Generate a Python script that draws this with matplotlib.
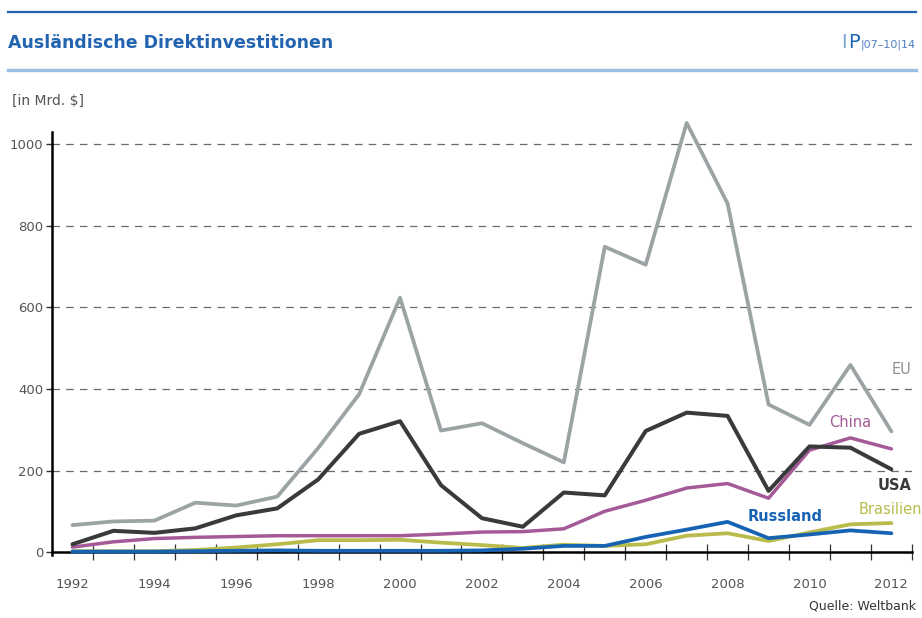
"""Foreign direct investment inflows 1992-2012 (EU, USA, China, Brazil, Russia)."""
import matplotlib
matplotlib.use("Agg")
import matplotlib.pyplot as plt
from matplotlib.lines import Line2D
import numpy as np

plt.rcParams["font.family"] = ["DejaVu Sans"]

years = list(range(1992, 2013))
eu = [66, 75, 77, 121, 114, 136, 255, 387, 624, 298, 316, 267, 220, 749, 705, 1053, 855, 362, 312, 459, 296]
usa = [19, 52, 47, 58, 90, 107, 178, 290, 321, 164, 83, 62, 146, 139, 297, 342, 334, 150, 259, 256, 203]
china = [12, 25, 33, 36, 38, 40, 40, 40, 40, 44, 49, 50, 57, 100, 127, 157, 168, 132, 250, 280, 253]
brasilien = [2, 2, 2, 5, 11, 19, 29, 29, 30, 23, 17, 10, 18, 15, 19, 40, 46, 27, 48, 68, 71]
russland = [1, 1, 1, 2, 3, 4, 3, 3, 3, 3, 4, 8, 15, 15, 37, 55, 74, 34, 43, 53, 46]
y_ticks = [0, 200, 400, 600, 800, 1000]
x_labels = list(range(1992, 2013, 2))

BLUE = "#2364b0"
C_EU, C_USA, C_CN, C_BR, C_RU = "#9ba3a4", "#3a3a3c", "#a55a98", "#b9bb4a", "#1763b3"

fig = plt.figure(figsize=(9.22, 6.18), dpi=100)
ax = fig.add_axes([0.0564, 0.1015, 0.9326, 0.6845])

# draw order: small series first so the big ones sit on top
ax.plot(years, brasilien, color=C_BR, lw=2.7, solid_capstyle="round", zorder=3)
ax.plot(years, russland, color=C_RU, lw=2.7, solid_capstyle="round", zorder=4)
ax.plot(years, china, color=C_CN, lw=2.5, solid_capstyle="round", zorder=5)
ax.plot(years, usa, color=C_USA, lw=2.9, solid_capstyle="round", zorder=6)
ax.plot(years, eu, color=C_EU, lw=2.7, solid_capstyle="round", zorder=6, clip_on=False)

ax.set_xlim(1991.5, 2012.5)
ax.set_ylim(-8, 1030)
for v in y_ticks[1:]:
    ax.axhline(v, color="#6a6a6a", lw=0.9, dashes=(6, 5), zorder=1)

for s in ("top", "right"):
    ax.spines[s].set_visible(False)
ax.spines["left"].set_linewidth(1.8)
ax.spines["bottom"].set_linewidth(1.8)
ax.spines["bottom"].set_position(("data", 0))

ax.set_yticks(y_ticks)
ax.tick_params(axis="y", length=4, width=1.0, color="#333333", labelsize=9.5,
               labelcolor="#555555", pad=2)
ax.set_xticks(np.arange(1992.5, 2013, 1.0))
ax.set_xticklabels([])
ax.tick_params(axis="x", which="major", direction="inout", length=12, width=0.9, color="#333333")
ax.set_xticks(x_labels, minor=True)
ax.set_xticklabels([str(y) for y in x_labels], minor=True)
ax.tick_params(axis="x", which="minor", length=0, labelsize=9.5, labelcolor="#555555", pad=19)

# series labels
ax.text(2012.5, 447, "EU", color="#8c9192", fontsize=10.5, ha="right", va="center")
ax.text(2011.0, 317, "China", color=C_CN, fontsize=10.5, ha="center", va="center")
ax.text(2012.5, 164, "USA", color=C_USA, fontsize=10.5, fontweight="bold", ha="right", va="center")
ax.text(2012.75, 105, "Brasilien", color=C_BR, fontsize=10.5, ha="right", va="center")
ax.text(2009.4, 86, "Russland", color=C_RU, fontsize=10.5, fontweight="bold", ha="center", va="center")

# header
fig.add_artist(Line2D([0.009, 0.994], [1 - 12 / 618] * 2, color=BLUE, lw=1.6))
fig.add_artist(Line2D([0.009, 0.994], [1 - 70 / 618] * 2, color="#9dbde3", lw=2.4))
fig.text(0.009, 1 - 43 / 618, "Ausländische Direktinvestitionen", color=BLUE,
         fontsize=12.5, fontweight="bold", va="center", ha="left")
fig.text(0.9935, 1 - 45 / 618, "|07–10|14", color="#4f7fbf", fontsize=8, va="center", ha="right")
fig.text(0.933, 1 - 43 / 618, "P", color=BLUE, fontsize=14, va="center", ha="right")
fig.text(0.918, 1 - 43 / 618, "I", color="#7aa3d6", fontsize=14, va="center", ha="right")

fig.text(0.013, 1 - 101 / 618, "[in Mrd. $]", color="#555555", fontsize=10, va="center", ha="left")
fig.text(0.993, 1 - 606 / 618, "Quelle: Weltbank", color="#333333", fontsize=9,
         va="center", ha="right")

fig.savefig("out.png", dpi=100)
